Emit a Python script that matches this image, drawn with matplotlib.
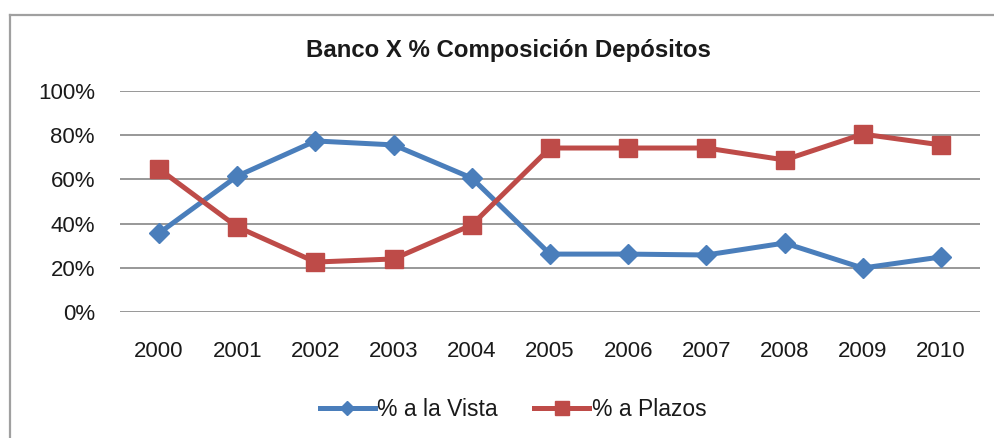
import matplotlib
matplotlib.use("Agg")
import matplotlib.pyplot as plt
from matplotlib.lines import Line2D
from matplotlib.ticker import FuncFormatter

plt.rcParams['font.family'] = ['Liberation Sans', 'DejaVu Sans']

years = ['2000', '2001', '2002', '2003', '2004', '2005', '2006', '2007', '2008', '2009', '2010']
vista = [0.357, 0.615, 0.774, 0.756, 0.606, 0.262, 0.262, 0.258, 0.312, 0.199, 0.249]
plazos = [0.647, 0.385, 0.226, 0.240, 0.394, 0.742, 0.742, 0.742, 0.688, 0.805, 0.756]

blue = '#4A7EBB'
red = '#BE4B48'
grid_c = '#868686'

fig = plt.figure(figsize=(9.95, 4.38), dpi=100)
fig.patch.set_facecolor('white')

# outer chart frame (only top and left edges visible in the crop)
fig.add_artist(Line2D([10/995, 1.0], [1 - 15/438, 1 - 15/438], color='#a0a0a0', lw=1.6))
fig.add_artist(Line2D([10/995, 10/995], [0.0, 1 - 15/438], color='#a0a0a0', lw=1.6))

ax = fig.add_axes([120/995, 1 - 312/438, 860/995, 221/438])
x = list(range(len(years)))

for v in [0, 0.2, 0.4, 0.6, 0.8, 1.0]:
    ax.axhline(v, color=grid_c, lw=1.2, zorder=1)

ax.plot(x, vista, color=blue, lw=3.6, marker='D', markersize=10,
        label='% a la Vista', zorder=3, clip_on=False)
ax.plot(x, plazos, color=red, lw=3.6, marker='s', markersize=13,
        label='% a Plazos', zorder=3, clip_on=False)

ax.set_xlim(-0.5, len(years) - 0.5)
ax.set_ylim(0, 1)
ax.set_yticks([0, 0.2, 0.4, 0.6, 0.8, 1.0])
ax.yaxis.set_major_formatter(FuncFormatter(lambda v, p: '%d%%' % round(v * 100)))
ax.set_xticks(x)
ax.set_xticklabels(years)
ax.tick_params(axis='both', length=0, labelsize=16, colors='#1a1a1a')
ax.tick_params(axis='x', pad=21)
ax.tick_params(axis='y', pad=18)
for s in ax.spines.values():
    s.set_visible(False)

fig.text(508/995, 1 - 50/438, 'Banco X % Composición Depósitos', ha='center', va='center',
         fontsize=17.3, fontweight='bold', color='#1a1a1a')

fig.legend(loc='center', bbox_to_anchor=(513/995, 1 - 410/438), ncol=2, frameon=False,
           fontsize=16.5, handlelength=2.4, columnspacing=1.6, handletextpad=0.1,
           markerscale=0.75, labelcolor='#1a1a1a')

fig.savefig('out.png', dpi=100, facecolor='white')
